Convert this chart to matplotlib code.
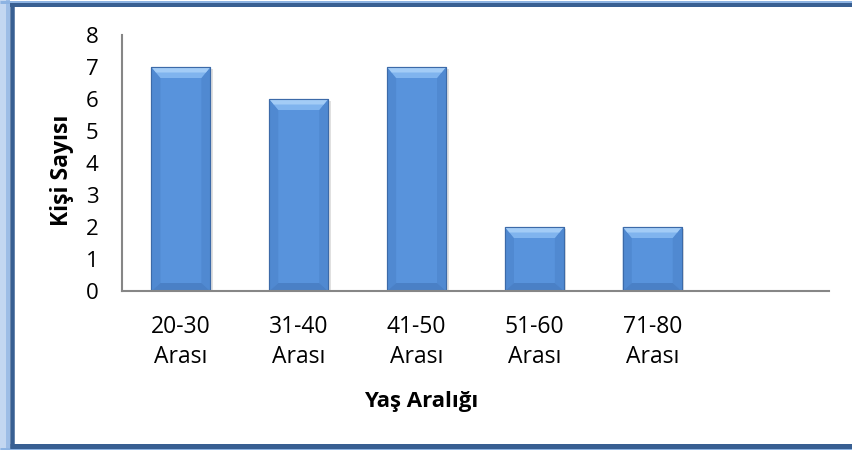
import matplotlib.pyplot as plt
from matplotlib.lines import Line2D
from matplotlib.patches import Polygon, Rectangle

plt.rcParams['font.family'] = ['Open Sans', 'DejaVu Sans']

W, H = 852, 450

categories = ['20-30\nArası', '31-40\nArası', '41-50\nArası', '51-60\nArası', '71-80\nArası']
counts = [7, 6, 7, 2, 2]
n_slots = 6  # Excel range had one empty category at the end

FACE = '#5893dc'
TOP = '#a3ccf6'
TOP2 = '#80b4ee'
BOTTOM = '#4a80c6'
SIDE = '#5089d1'
EDGE = '#3c6aa8'
AXIS = '#868686'


def fx(x):
    return x / W


def fy(y):
    return 1 - y / H


def frame_line(xs, ys, color, width_px):
    fig.add_artist(Line2D([fx(v) for v in xs], [fy(v) for v in ys],
                          transform=fig.transFigure, color=color,
                          linewidth=width_px * 0.72, solid_capstyle='butt'))


fig = plt.figure(figsize=(W / 100, H / 100), dpi=100)

# chart border: soft light-blue glow and dark blue line (right side is cut off)
frame_line([5, 5], [0, H], '#c3d7f1', 10)
frame_line([8, 8], [0, H], '#9dbde6', 4)
frame_line([0, W], [1.5, 1.5], '#8db3e2', 3)
frame_line([0, W], [449, 449], '#8db3e2', 3)
frame_line([12, 12], [3, 448], '#385f92', 4.5)
frame_line([10, W], [5, 5], '#385f92', 4)
frame_line([10, W], [445.5, 445.5], '#385f92', 5)

left, right, top, bottom = 122, 829, 35, 291
ax = fig.add_axes([fx(left), fy(bottom), (right - left) / W, (bottom - top) / H])
ax.set_xlim(-0.5, n_slots - 0.5)
ax.set_ylim(0, 8)

bars = ax.bar(range(len(counts)), counts, width=0.5, color=FACE, edgecolor=EDGE,
              linewidth=0.8, zorder=3)

# bevel pieces, sized in pixels and converted to data units
sx = n_slots / (right - left)
sy = 8 / (bottom - top)
bt, bb, bs = 11, 8, 9
for b in bars:
    x0, y0 = b.get_x(), b.get_y()
    x1, y1 = x0 + b.get_width(), y0 + b.get_height()
    dx, dyt, dyb = bs * sx, bt * sy, bb * sy
    ax.add_patch(Rectangle((x0 + 2.5 * sx, y0), b.get_width(), b.get_height() - 2 * sy,
                           color='#cccccc', alpha=0.6, lw=0, zorder=2))
    ax.add_patch(Polygon([(x0, y0), (x0 + dx, y0 + dyb), (x0 + dx, y1 - dyt), (x0, y1)],
                         color=SIDE, lw=0, zorder=4))
    ax.add_patch(Polygon([(x1, y0), (x1 - dx, y0 + dyb), (x1 - dx, y1 - dyt), (x1, y1)],
                         color=SIDE, lw=0, zorder=4))
    ax.add_patch(Polygon([(x0, y1), (x1, y1), (x1 - dx, y1 - dyt), (x0 + dx, y1 - dyt)],
                         color=TOP2, lw=0, zorder=4))
    ax.add_patch(Polygon([(x0, y1), (x1, y1), (x1 - dx * 0.5, y1 - dyt * 0.5),
                          (x0 + dx * 0.5, y1 - dyt * 0.5)], color=TOP, lw=0, zorder=4))
    ax.add_patch(Polygon([(x0, y0), (x1, y0), (x1 - dx, y0 + dyb), (x0 + dx, y0 + dyb)],
                         color=BOTTOM, lw=0, zorder=4))
    ax.add_patch(Rectangle((x0, y0), b.get_width(), b.get_height(), fill=False,
                           edgecolor=EDGE, lw=0.8, zorder=5))

for s in ['top', 'right']:
    ax.spines[s].set_visible(False)
for s in ['left', 'bottom']:
    ax.spines[s].set_color(AXIS)
    ax.spines[s].set_linewidth(1.5)
    ax.spines[s].set_zorder(6)

ax.set_yticks(range(0, 9))
ax.set_xticks(range(len(categories)))
ax.set_xticklabels(categories, fontsize=16.5, linespacing=1.35)
ax.tick_params(axis='y', labelsize=16, length=0, pad=17)
ax.tick_params(axis='x', length=0, pad=17)

fig.text(fx(62), fy(170), 'Kişi Sayısı', fontsize=16.5, fontweight='bold',
         rotation=90, ha='center', va='center')
fig.text(fx(421), fy(402), 'Yaş Aralığı', fontsize=16, fontweight='bold',
         ha='center', va='center')

fig.savefig('out.png', dpi=100)
